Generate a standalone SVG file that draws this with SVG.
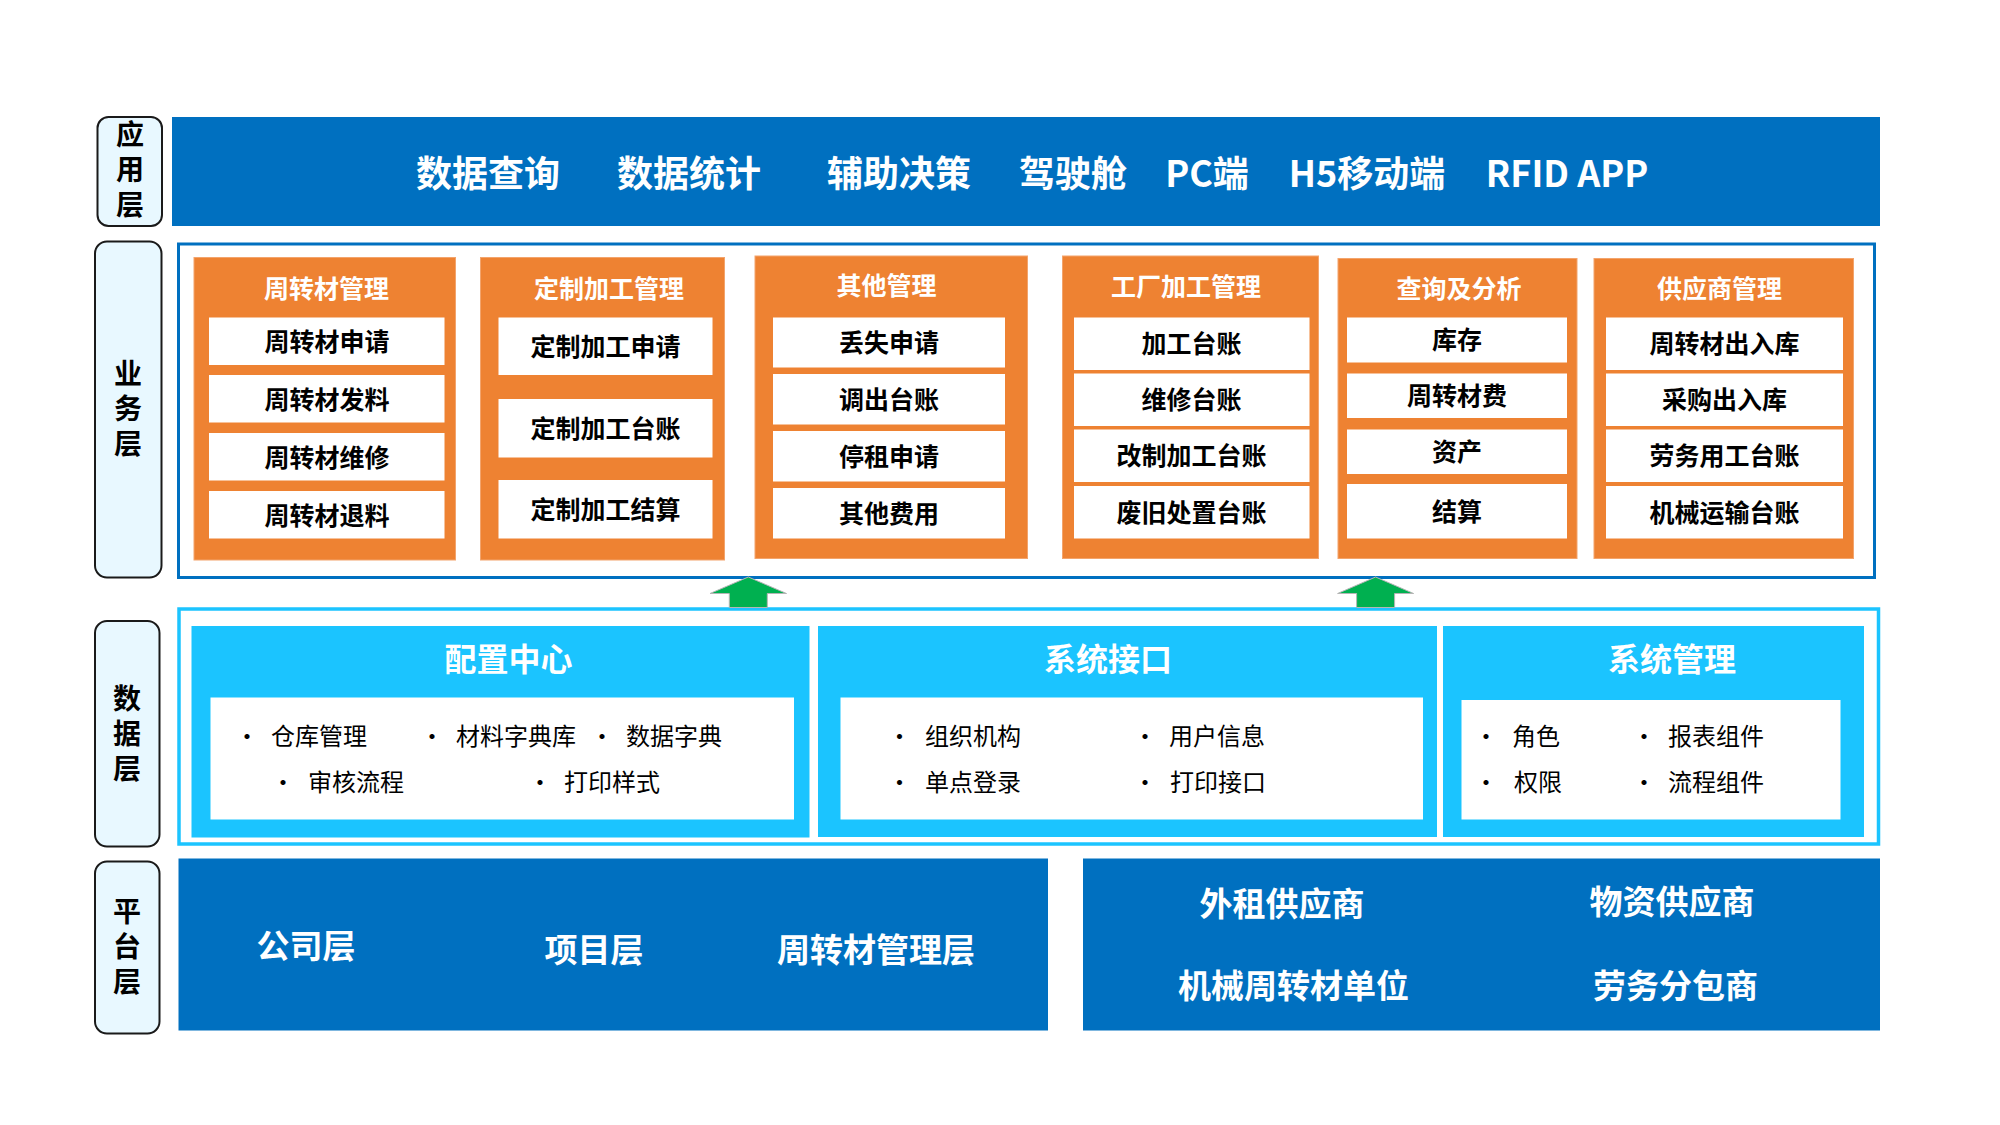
<svg xmlns="http://www.w3.org/2000/svg" width="2000" height="1125" viewBox="0 0 2000 1125">
<style>
text{font-family:"Noto Sans CJK SC","Noto Sans",sans-serif;}
.lbl{fill:#E8F8FF;stroke:#1A1A1A;stroke-width:2;}
.lt{font-size:28px;font-weight:700;fill:#000;text-anchor:middle;writing-mode:vertical-rl;letter-spacing:7px;}
.bar{fill:#0070C0;}
.at{font-size:36px;font-weight:700;fill:#fff;text-anchor:middle;}
.ob{fill:#EE8232;stroke:#F3A46C;stroke-width:1;}
.ot{font-size:25px;font-weight:700;fill:#fff;text-anchor:middle;}
.wb{fill:#fff;}
.it{font-size:25px;font-weight:700;fill:#000;text-anchor:middle;}
.cy{fill:#1BC4FF;}
.ct{font-size:32px;font-weight:700;fill:#fff;text-anchor:middle;}
.dt{font-size:24px;font-weight:400;fill:#000;}
.pt{font-size:33px;font-weight:700;fill:#fff;text-anchor:middle;}
.arr{fill:#00B050;stroke:#B5B5B5;stroke-width:1;}
</style>

<g id="label-app">
<rect class="lbl" x="97.5" y="117" width="64.5" height="109" rx="11"/>
<text class="lt" x="130" y="173">应用层</text>
</g>
<g id="label-business">
<rect class="lbl" x="95" y="241.5" width="66.5" height="336" rx="12"/>
<text class="lt" x="128" y="411.5">业务层</text>
</g>
<g id="label-data">
<rect class="lbl" x="95" y="621" width="64.5" height="225.5" rx="12"/>
<text class="lt" x="127" y="737">数据层</text>
</g>
<g id="label-platform">
<rect class="lbl" x="95" y="861.5" width="64.5" height="172" rx="12"/>
<text class="lt" x="127" y="950">平台层</text>
</g>

<g id="app-layer">
<rect class="bar" x="172" y="117" width="1708" height="109"/>
<text class="at" x="488" y="186.5">数据查询</text>
<text class="at" x="689" y="186.5">数据统计</text>
<text class="at" x="899" y="186.5">辅助决策</text>
<text class="at" x="1073" y="186.5">驾驶舱</text>
<text class="at" x="1207" y="186.5">PC端</text>
<text class="at" x="1367" y="186.5">H5移动端</text>
<text class="at" x="1567" y="186.5">RFID APP</text>
</g>

<g id="business-layer">
<rect x="178.5" y="244" width="1696" height="333.5" fill="#fff" stroke="#0070C0" stroke-width="3"/>
</g>

<g id="biz-zhouzhuancai">
<rect class="ob" x="194" y="257.5" width="261.5" height="302.5"/>
<text class="ot" x="326.5" y="298">周转材管理</text>
<rect class="wb" x="209" y="317.5" width="235.5" height="47.5"/>
<rect class="wb" x="209" y="375" width="235.5" height="47.5"/>
<rect class="wb" x="209" y="433" width="235.5" height="47.5"/>
<rect class="wb" x="209" y="491" width="235.5" height="47.5"/>
<text class="it" x="327" y="350.5">周转材申请</text>
<text class="it" x="327" y="408.5">周转材发料</text>
<text class="it" x="327" y="466.5">周转材维修</text>
<text class="it" x="327" y="524.5">周转材退料</text>
</g>

<g id="biz-dingzhi">
<rect class="ob" x="480.5" y="257.5" width="244" height="302.5"/>
<text class="ot" x="609" y="298">定制加工管理</text>
<rect class="wb" x="498.5" y="317.5" width="214" height="57.5"/>
<rect class="wb" x="498.5" y="399" width="214" height="58.5"/>
<rect class="wb" x="498.5" y="480" width="214" height="58.5"/>
<text class="it" x="605.5" y="355.5">定制加工申请</text>
<text class="it" x="605.5" y="437.5">定制加工台账</text>
<text class="it" x="605.5" y="518.5">定制加工结算</text>
</g>

<g id="biz-qita">
<rect class="ob" x="755" y="256" width="272.5" height="302.5"/>
<text class="ot" x="886.5" y="294.5">其他管理</text>
<rect class="wb" x="773" y="317.5" width="232" height="50"/>
<rect class="wb" x="773" y="374" width="232" height="50.5"/>
<rect class="wb" x="773" y="431" width="232" height="50.5"/>
<rect class="wb" x="773" y="488" width="232" height="50.5"/>
<text class="it" x="889" y="352">丢失申请</text>
<text class="it" x="889" y="409">调出台账</text>
<text class="it" x="889" y="466">停租申请</text>
<text class="it" x="889" y="523">其他费用</text>
</g>

<g id="biz-gongchang">
<rect class="ob" x="1062.5" y="256" width="256" height="302.5"/>
<text class="ot" x="1186" y="296">工厂加工管理</text>
<rect class="wb" x="1074" y="317.5" width="235.5" height="52.5"/>
<rect class="wb" x="1074" y="373.5" width="235.5" height="52.5"/>
<rect class="wb" x="1074" y="429.5" width="235.5" height="52.5"/>
<rect class="wb" x="1074" y="486" width="235.5" height="52.5"/>
<text class="it" x="1191.5" y="353">加工台账</text>
<text class="it" x="1191.5" y="409">维修台账</text>
<text class="it" x="1191.5" y="465">改制加工台账</text>
<text class="it" x="1191.5" y="521.5">废旧处置台账</text>
</g>

<g id="biz-chaxun">
<rect class="ob" x="1338" y="258.5" width="239" height="300"/>
<text class="ot" x="1459" y="298">查询及分析</text>
<rect class="wb" x="1347" y="317.5" width="220" height="45"/>
<rect class="wb" x="1347" y="373.5" width="220" height="44.5"/>
<rect class="wb" x="1347" y="429.5" width="220" height="44.5"/>
<rect class="wb" x="1347" y="484" width="220" height="54.5"/>
<text class="it" x="1457" y="349">库存</text>
<text class="it" x="1457" y="405">周转材费</text>
<text class="it" x="1457" y="461">资产</text>
<text class="it" x="1457" y="521">结算</text>
</g>

<g id="biz-gongyingshang">
<rect class="ob" x="1594" y="258.5" width="259.5" height="300"/>
<text class="ot" x="1719.5" y="298">供应商管理</text>
<rect class="wb" x="1606" y="317.5" width="237" height="52.5"/>
<rect class="wb" x="1606" y="373.5" width="237" height="52.5"/>
<rect class="wb" x="1606" y="429.5" width="237" height="52.5"/>
<rect class="wb" x="1606" y="486" width="237" height="52.5"/>
<text class="it" x="1724.5" y="353">周转材出入库</text>
<text class="it" x="1724.5" y="409">采购出入库</text>
<text class="it" x="1724.5" y="465">劳务用工台账</text>
<text class="it" x="1724.5" y="521.5">机械运输台账</text>
</g>

<g id="data-layer">
<rect x="179" y="609" width="1699.5" height="235" fill="#fff" stroke="#1BC4FF" stroke-width="3.5"/>
</g>

<g id="data-peizhi">
<rect class="cy" x="191.5" y="626" width="618" height="211.5"/>
<text class="ct" x="508.5" y="670.5">配置中心</text>
<rect class="wb" x="210.5" y="697.5" width="583.5" height="122"/>
<text class="dt" y="745"><tspan x="235">•</tspan><tspan x="271">仓库管理</tspan></text>
<text class="dt" y="745"><tspan x="420">•</tspan><tspan x="456">材料字典库</tspan></text>
<text class="dt" y="745"><tspan x="590">•</tspan><tspan x="626">数据字典</tspan></text>
<text class="dt" y="791"><tspan x="271">•</tspan><tspan x="308">审核流程</tspan></text>
<text class="dt" y="791"><tspan x="528">•</tspan><tspan x="564">打印样式</tspan></text>
</g>

<g id="data-jiekou">
<rect class="cy" x="818" y="626" width="619" height="211"/>
<text class="ct" x="1108" y="670.5">系统接口</text>
<rect class="wb" x="840.5" y="697.5" width="582.5" height="122"/>
<text class="dt" y="745"><tspan x="887.5">•</tspan><tspan x="925">组织机构</tspan></text>
<text class="dt" y="745"><tspan x="1133">•</tspan><tspan x="1169">用户信息</tspan></text>
<text class="dt" y="791"><tspan x="887.5">•</tspan><tspan x="925">单点登录</tspan></text>
<text class="dt" y="791"><tspan x="1133">•</tspan><tspan x="1170">打印接口</tspan></text>
</g>

<g id="data-guanli">
<rect class="cy" x="1443" y="626" width="421" height="211"/>
<text class="ct" x="1672" y="670.5">系统管理</text>
<rect class="wb" x="1461.5" y="700" width="379" height="119.5"/>
<text class="dt" y="745"><tspan x="1474">•</tspan><tspan x="1512">角色</tspan></text>
<text class="dt" y="745"><tspan x="1632">•</tspan><tspan x="1668">报表组件</tspan></text>
<text class="dt" y="791"><tspan x="1474">•</tspan><tspan x="1514">权限</tspan></text>
<text class="dt" y="791"><tspan x="1632">•</tspan><tspan x="1668">流程组件</tspan></text>
</g>

<g id="platform-left">
<rect class="bar" x="178.5" y="858.5" width="869.5" height="172"/>
<text class="pt" x="306" y="958">公司层</text>
<text class="pt" x="594" y="962">项目层</text>
<text class="pt" x="876" y="962">周转材管理层</text>
</g>

<g id="platform-right">
<rect class="bar" x="1083" y="858.5" width="797" height="172"/>
<text class="pt" x="1282" y="916">外租供应商</text>
<text class="pt" x="1672" y="914">物资供应商</text>
<text class="pt" x="1293.5" y="997.5">机械周转材单位</text>
<text class="pt" x="1675.5" y="997.5">劳务分包商</text>
</g>

<g id="connectors">
<polygon class="arr" points="748.3,577 786.5,593.5 767.3,593.5 767.3,607.5 729.3,607.5 729.3,593.5 710,593.5"/>
<polygon class="arr" points="1375.6,577 1413.6,593.5 1394.6,593.5 1394.6,607.5 1356.6,607.5 1356.6,593.5 1337.6,593.5"/>
</g>
</svg>
